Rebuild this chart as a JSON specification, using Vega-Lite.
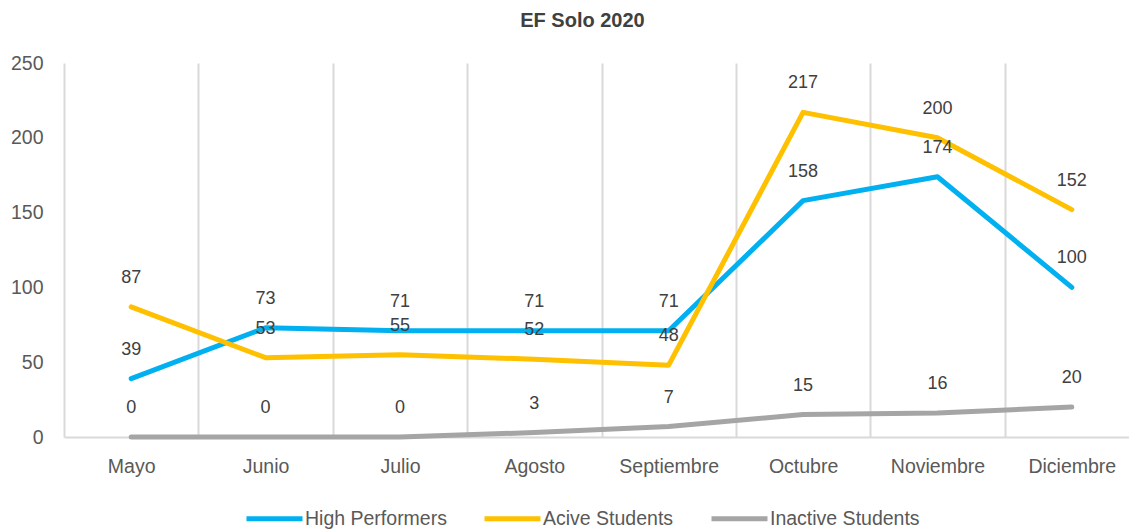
{
  "$schema": "https://vega.github.io/schema/vega-lite/v6.json",
  "width": 1065,
  "height": 374,
  "autosize": {"type": "none"},
  "padding": {"left": 64, "top": 63, "right": 0, "bottom": 94},
  "background": "white",
  "title": {"text": "EF Solo 2020", "fontSize": 20, "font": "Liberation Sans", "fontWeight": "bold", "color": "#404040", "anchor": "middle", "dx": -14, "offset": 22},
  "config": {"view": {"stroke": null}, "font": "Liberation Sans"},
  "data": {"values": [
    {"mes": "Mayo", "serie": "High Performers", "valor": 39},
    {"mes": "Junio", "serie": "High Performers", "valor": 73},
    {"mes": "Julio", "serie": "High Performers", "valor": 71},
    {"mes": "Agosto", "serie": "High Performers", "valor": 71},
    {"mes": "Septiembre", "serie": "High Performers", "valor": 71},
    {"mes": "Octubre", "serie": "High Performers", "valor": 158},
    {"mes": "Noviembre", "serie": "High Performers", "valor": 174},
    {"mes": "Diciembre", "serie": "High Performers", "valor": 100},
    {"mes": "Mayo", "serie": "Acive Students", "valor": 87},
    {"mes": "Junio", "serie": "Acive Students", "valor": 53},
    {"mes": "Julio", "serie": "Acive Students", "valor": 55},
    {"mes": "Agosto", "serie": "Acive Students", "valor": 52},
    {"mes": "Septiembre", "serie": "Acive Students", "valor": 48},
    {"mes": "Octubre", "serie": "Acive Students", "valor": 217},
    {"mes": "Noviembre", "serie": "Acive Students", "valor": 200},
    {"mes": "Diciembre", "serie": "Acive Students", "valor": 152},
    {"mes": "Mayo", "serie": "Inactive Students", "valor": 0},
    {"mes": "Junio", "serie": "Inactive Students", "valor": 0},
    {"mes": "Julio", "serie": "Inactive Students", "valor": 0},
    {"mes": "Agosto", "serie": "Inactive Students", "valor": 3},
    {"mes": "Septiembre", "serie": "Inactive Students", "valor": 7},
    {"mes": "Octubre", "serie": "Inactive Students", "valor": 15},
    {"mes": "Noviembre", "serie": "Inactive Students", "valor": 16},
    {"mes": "Diciembre", "serie": "Inactive Students", "valor": 20}
  ]},
  "encoding": {
    "x": {"field": "mes", "type": "nominal", "sort": ["Mayo", "Junio", "Julio", "Agosto", "Septiembre", "Octubre", "Noviembre", "Diciembre"],
      "scale": {"type": "band", "paddingInner": 0, "paddingOuter": 0, "range": [0, 1075]},
      "axis": {"title": null, "labelAngle": 0, "labelFontSize": 19.5, "labelColor": "#595959", "labelPadding": 20, "ticks": false, "domainColor": "#D9D9D9", "domainWidth": 2, "grid": true, "gridColor": "#D9D9D9", "gridWidth": 2, "tickBand": "extent"}},
    "y": {"field": "valor", "type": "quantitative", "scale": {"domain": [0, 250]},
      "axis": {"title": null, "values": [0, 50, 100, 150, 200, 250], "grid": false, "domain": false, "ticks": false, "labelFontSize": 19.5, "labelColor": "#595959", "labelPadding": 21}}
  },
  "layer": [
    {
      "mark": {"type": "line", "strokeWidth": 5, "strokeCap": "round", "strokeJoin": "round"},
      "encoding": {
        "color": {"field": "serie", "type": "nominal", "sort": ["High Performers", "Acive Students", "Inactive Students"],
          "scale": {"domain": ["High Performers", "Acive Students", "Inactive Students"], "range": ["#00B0F0", "#FFC000", "#A5A5A5"]},
          "legend": {"title": null, "orient": "none", "legendX": 180, "legendY": 425, "direction": "horizontal", "symbolType": "stroke", "symbolSize": 3136, "symbolStrokeWidth": 5, "labelFontSize": 19.5, "labelColor": "#595959", "labelOffset": 0, "columnPadding": 27, "symbolOffset": 0}}
      }
    },
    {
      "mark": {"type": "text", "dy": -29, "fontSize": 18, "color": "#404040"},
      "encoding": {"text": {"field": "valor", "type": "quantitative"}}
    }
  ]
}
